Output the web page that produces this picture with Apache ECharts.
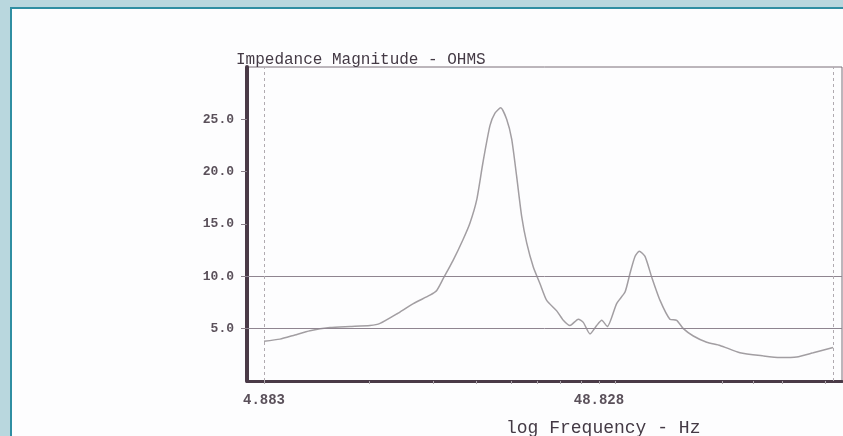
<!DOCTYPE html>
<html>
<head>
<meta charset="utf-8">
<script src="https://cdn.jsdelivr.net/npm/echarts@6/dist/echarts.min.js"></script>
<style>
html,body{margin:0;padding:0;width:843px;height:436px;overflow:hidden;background:#b9d7de;}
#panel{position:absolute;left:10px;top:7px;width:840px;height:440px;background:#fdfdfe;border-left:2px solid #2f8ea2;border-top:2px solid #2f8ea2;}
#chart{position:absolute;left:0;top:0;width:843px;height:436px;}
</style>
</head>
<body>
<div id="panel"></div>
<div id="chart"></div>
<script>
// Frequency (Hz) and impedance magnitude (ohms)
const freqHz = [4.883, 5.45, 6.04, 6.70, 7.69, 8.82, 10.12, 10.84, 12.16, 13.63, 15.28, 16.01, 16.75, 17.90, 19.17, 20.12, 21.07, 22.00, 23.08, 23.89, 24.85, 25.89, 26.80, 27.74, 28.71, 29.71, 31.09, 32.56, 34.09, 36.52, 38.21, 40.01, 42.36, 43.84, 45.90, 48.06, 49.76, 51.71, 55.13, 58.40, 60.45, 62.55, 64.41, 67.0, 70.2, 74.3, 79.5, 83.3, 87.2, 93.4, 102.4, 112.2, 128.7, 151.1, 169.4, 190.0, 213.0, 244.14];
const impedanceOhms = [3.8, 4.0, 4.4, 4.8, 5.1, 5.2, 5.3, 5.5, 6.4, 7.4, 8.2, 8.65, 9.8, 11.5, 13.5, 15.1, 17.3, 20.9, 24.4, 25.6, 26.1, 25.0, 23.1, 19.5, 15.7, 13.2, 10.9, 9.3, 7.7, 6.7, 5.8, 5.3, 5.9, 5.6, 4.5, 5.3, 5.8, 5.2, 7.4, 8.5, 10.3, 11.9, 12.4, 11.9, 9.9, 7.7, 5.9, 5.8, 5.0, 4.3, 3.7, 3.4, 2.7, 2.4, 2.25, 2.3, 2.7, 3.2];
const xLabelValues = [4.883, 48.828];
const xTickValues = [4.883, 10.1, 15.6, 21.0, 26.7, 31.9, 37.3, 43.1, 48.828, 54.5, 113.8, 140.8, 171.8, 232.0];
const yLabelValues = [5, 10, 15, 20, 25];
const refLinesY = [5, 10];
const dashedLinesX = [4.883, 244.14];
const titleText = 'Impedance Magnitude - OHMS';
const xNameText = 'log Frequency - Hz';

const mono = '"Liberation Mono", "DejaVu Sans Mono", monospace';
const chart = echarts.init(document.getElementById('chart'));
chart.setOption({
  animation: false,
  backgroundColor: 'transparent',
  title: [
    {text: titleText, left: 231, top: 47, textStyle: {fontFamily: mono, fontSize: 16, fontWeight: 'normal', color: '#443a45'}},
    {text: xNameText, left: 501, top: 414, textStyle: {fontFamily: mono, fontSize: 18, fontWeight: 'normal', color: '#443a45'}}
  ],
  grid: {left: 247, top: 67, right: 1, bottom: 55, show: true, borderColor: '#7a6f79', borderWidth: 1, backgroundColor: 'transparent'},
  xAxis: {
    type: 'log', logBase: 10, min: 4.345, max: 259.5,
    axisLine: {show: true, onZero: false, lineStyle: {color: '#4a3a47', width: 3}},
    axisTick: {show: true, customValues: xTickValues, length: 3, lineStyle: {color: '#aaa3aa'}},
    minorTick: {show: false},
    axisLabel: {customValues: xLabelValues, margin: 12, fontFamily: mono, fontSize: 14, fontWeight: 'bold', color: '#5a505a', formatter: v => (+v).toFixed(3)},
    splitLine: {show: false}
  },
  yAxis: {
    type: 'value', min: 0, max: 30, interval: 5,
    axisLine: {show: true, lineStyle: {color: '#4a3a47', width: 4}},
    axisTick: {show: true, customValues: yLabelValues, length: 6, lineStyle: {color: '#8a7f88'}},
    axisLabel: {customValues: yLabelValues, margin: 13, fontFamily: mono, fontSize: 13, fontWeight: 'bold', color: '#5a505a', formatter: v => (+v).toFixed(1)},
    splitLine: {show: false}
  },
  series: [{
    type: 'line',
    data: freqHz.map((f, i) => [f, impedanceOhms[i]]),
    showSymbol: false,
    smooth: 0.2,
    lineStyle: {color: '#a29ea2', width: 1.5},
    markLine: {
      silent: true, symbol: 'none', label: {show: false},
      data: refLinesY.map(v => ({yAxis: v, lineStyle: {color: '#8f8590', width: 1, type: 'solid'}}))
        .concat(dashedLinesX.map(v => ({xAxis: v, lineStyle: {color: '#b0aab0', width: 1, type: [3, 3]}})))
    }
  }]
});
</script>
</body>
</html>
